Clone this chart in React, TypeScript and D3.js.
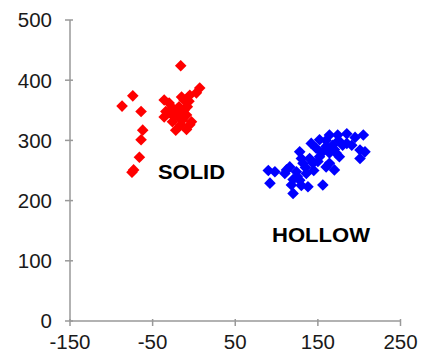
import React from "react";
import * as d3 from "d3";

const xTicks = [-150, -50, 50, 150, 250];
const yTicks = [0, 100, 200, 300, 400, 500];

const solidX = [-16, -74, -87, -64, -62, -64, -66, -75, -73, -36,
  7, 3, -5, -12, -18, -8, -34, -26, -36, -24, -9, -14, -3, -22, -5, -16, -26, -9, -20, -30,
  -12, -18, -6, -28, -15];
const solidY = [424, 374, 357, 348, 317, 301, 272, 247, 251, 367,
  387, 379, 375, 367, 356, 356, 348, 354, 339, 339, 342, 334, 331, 317, 326, 326, 331, 318, 345, 362,
  350, 338, 365, 345, 372];

const hollowX = [90, 98, 92, 120, 118, 112, 128, 142, 152, 164, 174, 185, 205, 191, 201, 207, 201,
  156, 138, 128, 144, 152, 164, 172, 160, 136, 124, 116, 132, 148, 180, 168, 176, 164, 170, 160,
  140, 150, 125, 135, 155, 145, 120, 110, 130, 175, 185, 195, 160, 170, 130];
const hollowY = [250, 248, 229, 212, 226, 251, 281, 295, 301, 309, 309, 311, 309, 292, 284, 281, 270,
  226, 223, 234, 262, 273, 279, 279, 256, 245, 248, 256, 262, 287, 292, 292, 273, 262, 251, 290,
  270, 265, 240, 255, 280, 250, 235, 245, 225, 300, 295, 305, 300, 285, 270];

const W = 422;
const H = 354;

export default function App() {
  const x = d3.scaleLinear().domain([-150, 250]).range([70, 400.5]);
  const y = d3.scaleLinear().domain([0, 500]).range([321, 20]);
  const diamond = (cx: number, cy: number) => {
    const r = 5.8;
    return `M${cx},${cy - r}L${cx + r},${cy}L${cx},${cy + r}L${cx - r},${cy}Z`;
  };
  const axisColor = "#999";
  const font = "'Liberation Sans', Arial, sans-serif";
  return (
    <svg width={W} height={H} style={{ position: "absolute", left: 0, top: 0, background: "#fff" }}>
      <line x1={x(-150)} x2={x(-150)} y1={y(500)} y2={y(0)} stroke={axisColor} strokeWidth={1.5} />
      <line x1={x(-150)} x2={x(250)} y1={y(0)} y2={y(0)} stroke={axisColor} strokeWidth={1.5} />
      {yTicks.map((t) => (
        <g key={"y" + t}>
          <line x1={x(-150) - 5} x2={x(-150) + 3} y1={y(t)} y2={y(t)} stroke={axisColor} strokeWidth={1.5} />
          <text x={52} y={y(t)} dy="0.36em" textAnchor="end" fontSize={20.5} fontFamily={font} fill="#1a1a1a">
            {t}
          </text>
        </g>
      ))}
      {xTicks.map((t) => (
        <g key={"x" + t}>
          <line x1={x(t)} x2={x(t)} y1={y(0) - 2} y2={y(0) + 5} stroke={axisColor} strokeWidth={1.5} />
          <text x={x(t)} y={349} textAnchor="middle" fontSize={20.5} fontFamily={font} fill="#1a1a1a">
            {t}
          </text>
        </g>
      ))}
      {solidX.map((v, i) => (
        <path key={"s" + i} d={diamond(x(v), y(solidY[i]))} fill="#ff0000" />
      ))}
      {hollowX.map((v, i) => (
        <path key={"h" + i} d={diamond(x(v), y(hollowY[i]))} fill="#0000ff" />
      ))}
      <text x={158} y={179} fontSize={20} fontWeight="bold" fontFamily={font} fill="#000"
        textLength={67} lengthAdjust="spacingAndGlyphs">SOLID</text>
      <text x={272} y={242} fontSize={20} fontWeight="bold" fontFamily={font} fill="#000"
        textLength={98} lengthAdjust="spacingAndGlyphs">HOLLOW</text>
    </svg>
  );
}
